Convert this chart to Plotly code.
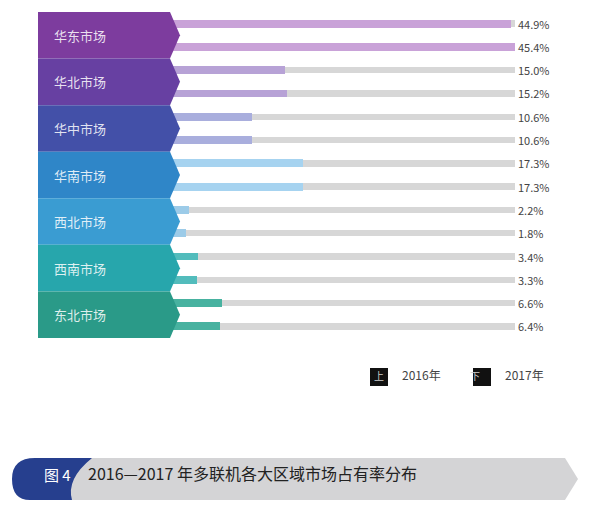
import plotly.graph_objects as go

regions = ['华东市场', '华北市场', '华中市场', '华南市场', '西北市场', '西南市场', '东北市场']
share_2016 = [44.9, 15.0, 10.6, 17.3, 2.2, 3.4, 6.6]
share_2017 = [45.4, 15.2, 10.6, 17.3, 1.8, 3.3, 6.4]
band_colors = ['#7d3c9e', '#6740a2', '#4350a8', '#2f86c8', '#3a9cd2', '#27a6ac', '#2a9a88']
bar_colors = ['#c9a2d8', '#b7a2d6', '#a9aedd', '#a6d3f0', '#9ccbe8', '#52bcbc', '#48b2a0']

W, H = 600, 527
OFF = 8  # page body margin


def px(x):
    return (x - OFF) / W


def py(y):
    return 1 - (y - OFF) / H


def ay(y):
    # annotation text in paper coords
    return 1 - y / H


xmax = max(share_2016 + share_2017)
y16 = [i - 0.25 for i in range(len(regions))]
y17 = [i + 0.25 for i in range(len(regions))]

fig = go.Figure()
for ys in (y16, y17):
    fig.add_bar(x=[xmax] * len(regions), y=ys, orientation='h', width=0.14,
                marker=dict(color='#d7d7d7', line_width=0), hoverinfo='skip', showlegend=False)
for ys, vals in ((y16, share_2016), (y17, share_2017)):
    fig.add_bar(x=vals, y=ys, orientation='h', width=0.17,
                marker=dict(color=bar_colors, line_width=0), showlegend=False,
                hovertemplate='%{x:.1f}%<extra></extra>')

shapes = []
annotations = []
x0, x1, xt = px(38), px(170), px(180)
for i, (name, c) in enumerate(zip(regions, band_colors)):
    a, b = i - 0.5, i + 0.5
    shapes.append(dict(type='path', xref='paper', yref='y', line_width=0, fillcolor=c, layer='above',
                       path=f'M {x0} {a} L {x1} {a} L {xt} {i} L {x1} {b} L {x0} {b} Z'))
    annotations.append(dict(x=px(52), y=i, xref='paper', yref='y', text=name, showarrow=False,
                            xanchor='left', font=dict(size=13, color='rgba(255,255,255,0.85)')))
for ys, vals in ((y16, share_2016), (y17, share_2017)):
    for y, v in zip(ys, vals):
        annotations.append(dict(x=px(516), y=y, xref='paper', yref='y', text=f'{v:.1f}%', showarrow=False,
                                xanchor='left', font=dict(size=11, color='#444')))

# legend
ly = ay(377)
for bx, ch, lab in ((370, '上', '2016年'), (473, '下', '2017年')):
    shapes.append(dict(type='rect', xref='paper', yref='paper', x0=px(bx), x1=px(bx + 18),
                       y0=py(386), y1=py(368), fillcolor='#111', line_width=0))
    annotations.append(dict(x=px(bx + 9), y=ly, xref='paper', yref='paper', text=ch, showarrow=False,
                            font=dict(size=10, color='#ccc')))
    annotations.append(dict(x=px(bx + 30), y=ly, xref='paper', yref='paper', text=lab, showarrow=False,
                            xanchor='left', font=dict(size=12, color='#444')))

# caption bar
cy0, cy1, cym = py(500), py(458), py(479)
shapes.append(dict(type='path', xref='paper', yref='paper', fillcolor='#d4d4d6', line_width=0,
                   path=f'M {px(60)} {cy0} L {px(565)} {cy0} L {px(578)} {cym} L {px(565)} {cy1} L {px(60)} {cy1} Z'))
shapes.append(dict(type='path', xref='paper', yref='paper', fillcolor='#263f8e', line_width=0,
                   path=f'M {px(30)} {cy0} L {px(72)} {cy0} Q {px(66)} {cym} {px(92)} {cy1} L {px(35)} {cy1} '
                        f'Q {px(12)} {cy1} {px(12)} {cym} Q {px(12)} {cy0} {px(30)} {cy0} Z'))
annotations.append(dict(x=px(42), y=ay(479), xref='paper', yref='paper', text='图 4', showarrow=False,
                        font=dict(size=15, color='white')))
annotations.append(dict(x=px(86), y=ay(479), xref='paper', yref='paper', xanchor='left',
                        text='2016—2017 年多联机各大区域市场占有率分布', showarrow=False,
                        font=dict(size=16, color='#222')))

fig.update_layout(
    width=W, height=H, barmode='overlay', bargap=0,
    paper_bgcolor='white', plot_bgcolor='white',
    margin=dict(l=0, r=0, t=0, b=0),
    font=dict(family='Noto Sans CJK SC'),
    xaxis=dict(domain=[px(172), px(515)], range=[0, xmax], visible=False, fixedrange=True),
    yaxis=dict(domain=[py(338), py(12)], range=[len(regions) - 0.5, -0.5],
               visible=False, fixedrange=True),
    shapes=shapes, annotations=annotations,
)
fig.write_html('out.html')
